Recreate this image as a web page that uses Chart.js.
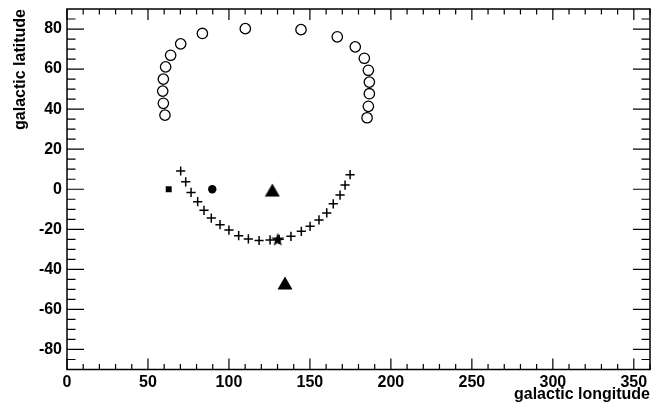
<!DOCTYPE html>
<html>
<head>
<meta charset="utf-8">
<script src="https://cdn.jsdelivr.net/npm/chart.js@4/dist/chart.umd.min.js"></script>
<style>
  body { margin: 0; background: #fff; }
  canvas { display: block; }
</style>
</head>
<body>
<canvas id="skyChart" width="663" height="411"></canvas>
<script>
'use strict';

// axis ticks
const xTicks = [0, 50, 100, 150, 200, 250, 300, 350];
const yTicks = [-80, -60, -40, -20, 0, 20, 40, 60, 80];

// open circles (upper arc)
const ringLon = [60.5, 59.5, 59.1, 59.5, 60.9, 64.0, 70.2, 83.6, 110.1, 144.5, 166.9,
                 178.0, 183.6, 186.1, 186.7, 186.7, 186.1, 185.3];
const ringLat = [37.0, 42.9, 49.0, 55.0, 61.1, 66.9, 72.6, 77.8, 80.2, 79.7, 76.1,
                 71.1, 65.4, 59.4, 53.5, 47.7, 41.4, 35.7];

// crosses (lower arc)
const crossLon = [70.2, 73.3, 76.6, 80.7, 84.6, 89.1, 94.5, 100.0, 106.0, 112.0, 118.6, 125.4,
                  131.0, 138.3, 144.7, 150.1, 155.6, 160.4, 164.4, 168.6, 171.7, 174.8];
const crossLat = [9.1, 3.7, -1.6, -6.2, -10.5, -14.4, -17.7, -20.4, -23.2, -24.8, -25.6, -25.3,
                  -25.0, -23.5, -21.0, -18.5, -15.3, -11.8, -7.3, -2.9, 2.1, 7.3];

// single objects
const squareLon = [62.8];
const squareLat = [0];
const dotLon = [89.7];
const dotLat = [0];
const triLon = [126.8, 134.6];
const triLat = [-0.4, -46.8];
const starLon = [130.1];
const starLat = [-25.0];

function pts(lon, lat) {
  return lon.map(function (v, i) { return { x: v, y: lat[i] }; });
}

// ROOT style markers that chart.js doesn't have
function triangleMarker() {
  const c = document.createElement('canvas');
  c.width = 20; c.height = 20;
  const g = c.getContext('2d');
  g.fillStyle = '#000';
  g.beginPath();
  g.moveTo(10, 3.5);
  g.lineTo(17.5, 16.5);
  g.lineTo(2.5, 16.5);
  g.closePath();
  g.fill();
  return c;
}

function starMarker() {
  const c = document.createElement('canvas');
  c.width = 16; c.height = 16;
  const g = c.getContext('2d');
  g.fillStyle = '#000';
  g.beginPath();
  for (let i = 0; i < 10; i++) {
    const r = i % 2 === 0 ? 7 : 2.9;
    const a = -Math.PI / 2 + i * Math.PI / 5;
    const px = 8 + r * Math.cos(a);
    const py = 8.5 + r * Math.sin(a);
    if (i === 0) g.moveTo(px, py); else g.lineTo(px, py);
  }
  g.closePath();
  g.fill();
  return c;
}

// frame with ticks pointing inwards on all four sides
const frameTicks = {
  id: 'frameTicks',
  afterDatasetsDraw(chart) {
    const ctx = chart.ctx;
    const a = chart.chartArea;
    const x = chart.scales.x;
    const y = chart.scales.y;
    ctx.save();
    ctx.strokeStyle = '#000';
    ctx.lineWidth = 1.2;
    ctx.beginPath();
    for (let v = 0; v <= 360; v += 10) {
      const px = x.getPixelForValue(v);
      const len = v % 50 === 0 ? 11 : 5.5;
      ctx.moveTo(px, a.bottom); ctx.lineTo(px, a.bottom - len);
      ctx.moveTo(px, a.top); ctx.lineTo(px, a.top + len);
    }
    for (let v = -85; v <= 85; v += 5) {
      const py = y.getPixelForValue(v);
      const len = v % 20 === 0 ? 17 : 8.5;
      ctx.moveTo(a.left, py); ctx.lineTo(a.left + len, py);
      ctx.moveTo(a.right, py); ctx.lineTo(a.right - len, py);
    }
    ctx.stroke();
    ctx.lineWidth = 1.5;
    ctx.strokeRect(a.left, a.top, a.right - a.left, a.bottom - a.top);
    ctx.restore();
  }
};

const labelFont = { family: "'Liberation Sans', Arial, sans-serif", size: 16, weight: 'bold' };

new Chart(document.getElementById('skyChart').getContext('2d'), {
  type: 'scatter',
  data: {
    datasets: [
      {
        data: pts(ringLon, ringLat),
        pointStyle: 'circle', pointRadius: 5.2, borderWidth: 1.3,
        borderColor: '#000', backgroundColor: 'rgba(255,255,255,0)'
      },
      {
        data: pts(crossLon, crossLat),
        pointStyle: 'cross', pointRadius: 4.6, borderWidth: 1.5,
        borderColor: '#000'
      },
      {
        data: pts(squareLon, squareLat),
        pointStyle: 'rect', pointRadius: 4.2, borderWidth: 0,
        backgroundColor: '#000'
      },
      {
        data: pts(dotLon, dotLat),
        pointStyle: 'circle', pointRadius: 4.2, borderWidth: 0,
        backgroundColor: '#000'
      },
      {
        data: pts(triLon, triLat),
        pointStyle: triangleMarker(), pointRadius: 8
      },
      {
        data: pts(starLon, starLat),
        pointStyle: starMarker(), pointRadius: 7
      }
    ]
  },
  options: {
    responsive: false,
    animation: false,
    layout: { padding: { top: 5.5, right: 13, bottom: 0, left: 0 } },
    plugins: {
      legend: { display: false },
      tooltip: { enabled: false }
    },
    scales: {
      x: {
        type: 'linear',
        min: 0, max: 360,
        afterBuildTicks: function (scale) { scale.ticks = xTicks.map(function (v) { return { value: v }; }); },
        afterFit: function (scale) { scale.height = 41.5; scale.paddingLeft = 0; scale.paddingRight = 0; },
        grid: { display: false, drawTicks: false },
        border: { display: false },
        ticks: { color: '#000', font: labelFont, padding: 3, maxRotation: 0, autoSkip: false },
        title: {
          display: true, text: 'galactic longitude', align: 'end',
          color: '#000', font: labelFont, padding: { top: 0, bottom: 7 }
        }
      },
      y: {
        type: 'linear',
        min: -90, max: 90,
        afterBuildTicks: function (scale) { scale.ticks = yTicks.map(function (v) { return { value: v }; }); },
        afterFit: function (scale) { scale.width = 67; scale.paddingTop = 0; scale.paddingBottom = 0; },
        grid: { display: false, drawTicks: false },
        border: { display: false },
        ticks: { color: '#000', font: labelFont, padding: 5, autoSkip: false },
        title: {
          display: true, text: 'galactic latitude', align: 'end',
          color: '#000', font: labelFont, padding: { top: 11, bottom: 0 }
        }
      }
    }
  },
  plugins: [frameTicks]
});
</script>
</body>
</html>
